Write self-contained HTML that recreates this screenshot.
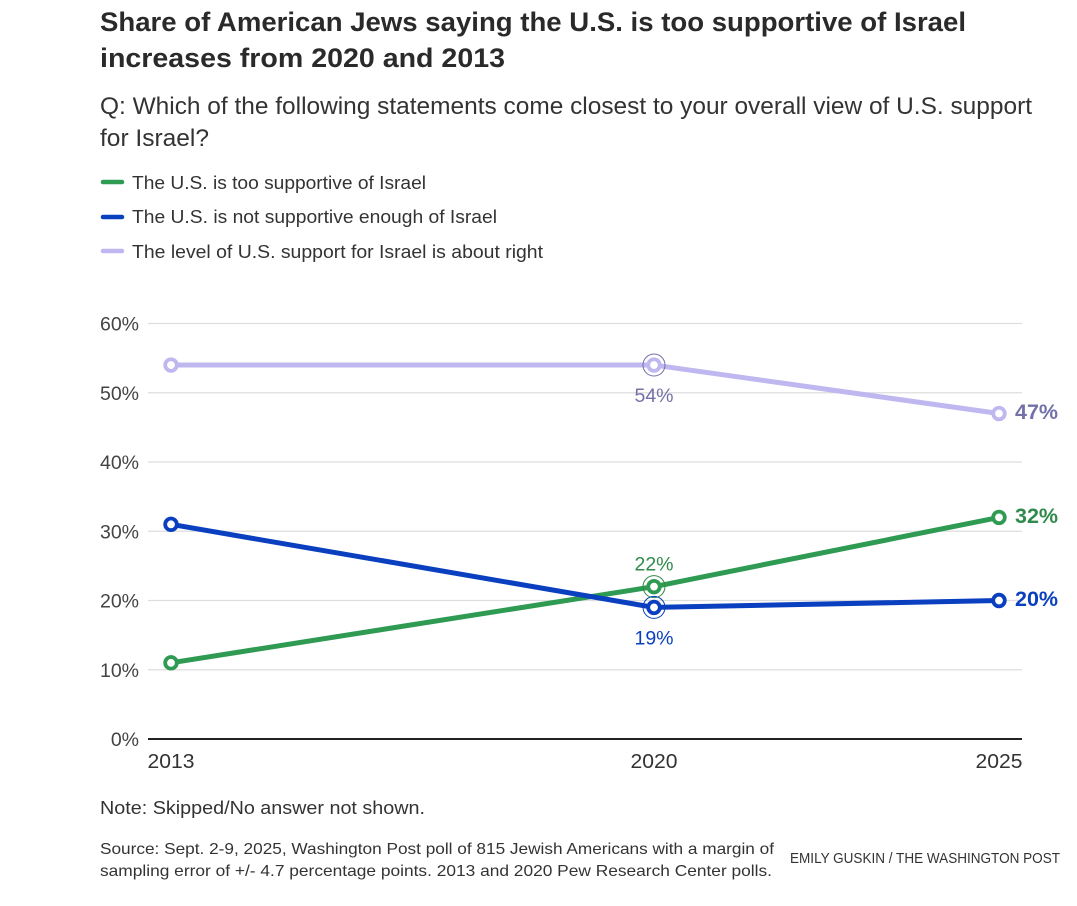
<!DOCTYPE html>
<html lang="en">
<head>
<meta charset="utf-8">
<title>Share of American Jews saying the U.S. is too supportive of Israel</title>
<style>
html,body{margin:0;padding:0;background:#fff;width:1077px;height:906px;overflow:hidden}
svg{display:block;font-family:"Liberation Sans",sans-serif}
</style>
</head>
<body>
<svg id="chart" width="1077" height="906" viewBox="0 0 1077 906" xmlns="http://www.w3.org/2000/svg">
  <text x="100" y="31" font-size="26.5" font-weight="700" fill="#2a2a2a" textLength="866" lengthAdjust="spacingAndGlyphs">Share of American Jews saying the U.S. is too supportive of Israel</text>
  <text x="100" y="67" font-size="26.5" font-weight="700" fill="#2a2a2a" textLength="405" lengthAdjust="spacingAndGlyphs">increases from 2020 and 2013</text>
  <text x="100" y="114" font-size="24" fill="#333" textLength="932" lengthAdjust="spacingAndGlyphs">Q: Which of the following statements come closest to your overall view of U.S. support</text>
  <text x="100" y="146" font-size="24" fill="#333" textLength="109" lengthAdjust="spacingAndGlyphs">for Israel?</text>

  <g>
    <line x1="103" x2="122" y1="182" y2="182" stroke="#2f9a52" stroke-width="4.5" stroke-linecap="round"/>
    <text x="132" y="189" font-size="18.5" fill="#333" textLength="294" lengthAdjust="spacingAndGlyphs">The U.S. is too supportive of Israel</text>
    <line x1="103" x2="122" y1="217" y2="217" stroke="#0a3fbf" stroke-width="4.5" stroke-linecap="round"/>
    <text x="132" y="223" font-size="18.5" fill="#333" textLength="365" lengthAdjust="spacingAndGlyphs">The U.S. is not supportive enough of Israel</text>
    <line x1="103" x2="122" y1="251" y2="251" stroke="#bfb8f0" stroke-width="4.5" stroke-linecap="round"/>
    <text x="132" y="258" font-size="18.5" fill="#333" textLength="411" lengthAdjust="spacingAndGlyphs">The level of U.S. support for Israel is about right</text>
  </g>

  <g id="plot"></g>

  <text x="100" y="814" font-size="18" fill="#333" textLength="325" lengthAdjust="spacingAndGlyphs">Note: Skipped/No answer not shown.</text>
  <text x="100" y="854" font-size="16" fill="#333" textLength="674" lengthAdjust="spacingAndGlyphs">Source: Sept. 2-9, 2025, Washington Post poll of 815 Jewish Americans with a margin of</text>
  <text x="100" y="876" font-size="16" fill="#333" textLength="672" lengthAdjust="spacingAndGlyphs">sampling error of +/- 4.7 percentage points. 2013 and 2020 Pew Research Center polls.</text>
  <text x="790" y="863" font-size="14.5" fill="#333" textLength="270" lengthAdjust="spacingAndGlyphs">EMILY GUSKIN / THE WASHINGTON POST</text>
</svg>
<script>
const years = [2013, 2020, 2025];
const yTicks = [0, 10, 20, 30, 40, 50, 60];
const aboutRight = [54, 54, 47];
const tooSupportive = [11, 22, 32];
const notEnough = [31, 19, 20];

const NS = 'http://www.w3.org/2000/svg';
const plot = document.getElementById('plot');
const xScale = function (year) { return 171 + (year - 2013) * 69; };
const yScale = function (v) { return 739 - v * 6.925; };

function make(tag, attrs, text) {
  const el = document.createElementNS(NS, tag);
  Object.keys(attrs).forEach(function (k) { el.setAttribute(k, attrs[k]); });
  if (text !== undefined) el.textContent = text;
  plot.appendChild(el);
  return el;
}

yTicks.forEach(function (t) {
  if (t !== 0) {
    const grid = make('line', { x1: 148, x2: 1022, y1: yScale(t), y2: yScale(t), stroke: '#dedede', 'stroke-width': 1.2 });
    
    
  }
  const label = make('text', { x: 139, y: yScale(t) + 7, 'text-anchor': 'end', 'font-size': 19.5, fill: '#444' }, t + '%');
  
  
});

const axis = make('line', { x1: 148, x2: 1022, y1: yScale(0), y2: yScale(0), stroke: '#222', 'stroke-width': 2 });



years.forEach(function (yr) {
  const label = make('text', { x: xScale(yr), y: 768, 'text-anchor': 'middle', 'font-size': 20, fill: '#333', textLength: 47, lengthAdjust: 'spacingAndGlyphs' }, String(yr));
  
  
});

function drawSeries(name, values, color, textColor, ringColor, midOffset) {
  const pts = values.map(function (v, i) { return xScale(years[i]) + ',' + yScale(v); }).join(' ');
  const line = make('polyline', { points: pts, fill: 'none', stroke: color, 'stroke-width': 5, 'stroke-linejoin': 'round' });
  
  

  values.forEach(function (v, i) {
    const cx = xScale(years[i]);
    const cy = yScale(v);
    if (i === 1) {
      const halo = make('circle', { cx: cx, cy: cy, r: 11, fill: 'none', stroke: ringColor, 'stroke-width': 1 });
      
      
    }
    const pt = make('circle', { cx: cx, cy: cy, r: 5.8, fill: '#fff', stroke: color, 'stroke-width': 3.8 });
    
    
  });

  const midLabel = make('text', { x: xScale(years[1]), y: yScale(values[1]) + midOffset, 'text-anchor': 'middle', 'font-size': 19.5, fill: textColor }, values[1] + '%');
  
  

  const endLabel = make('text', { x: 1015, y: yScale(values[2]) + 5.5, 'font-size': 21.5, 'font-weight': 700, fill: textColor }, values[2] + '%');
  
  
}

drawSeries('about-right', aboutRight, '#bfb8f0', '#7470a8', '#7470a8', 37);
drawSeries('too-supportive', tooSupportive, '#2f9a52', '#2f8a4c', '#2f8a4c', -16);
drawSeries('not-enough', notEnough, '#0a3fbf', '#0a3fbf', '#0a3fbf', 37);
</script>
</body>
</html>
